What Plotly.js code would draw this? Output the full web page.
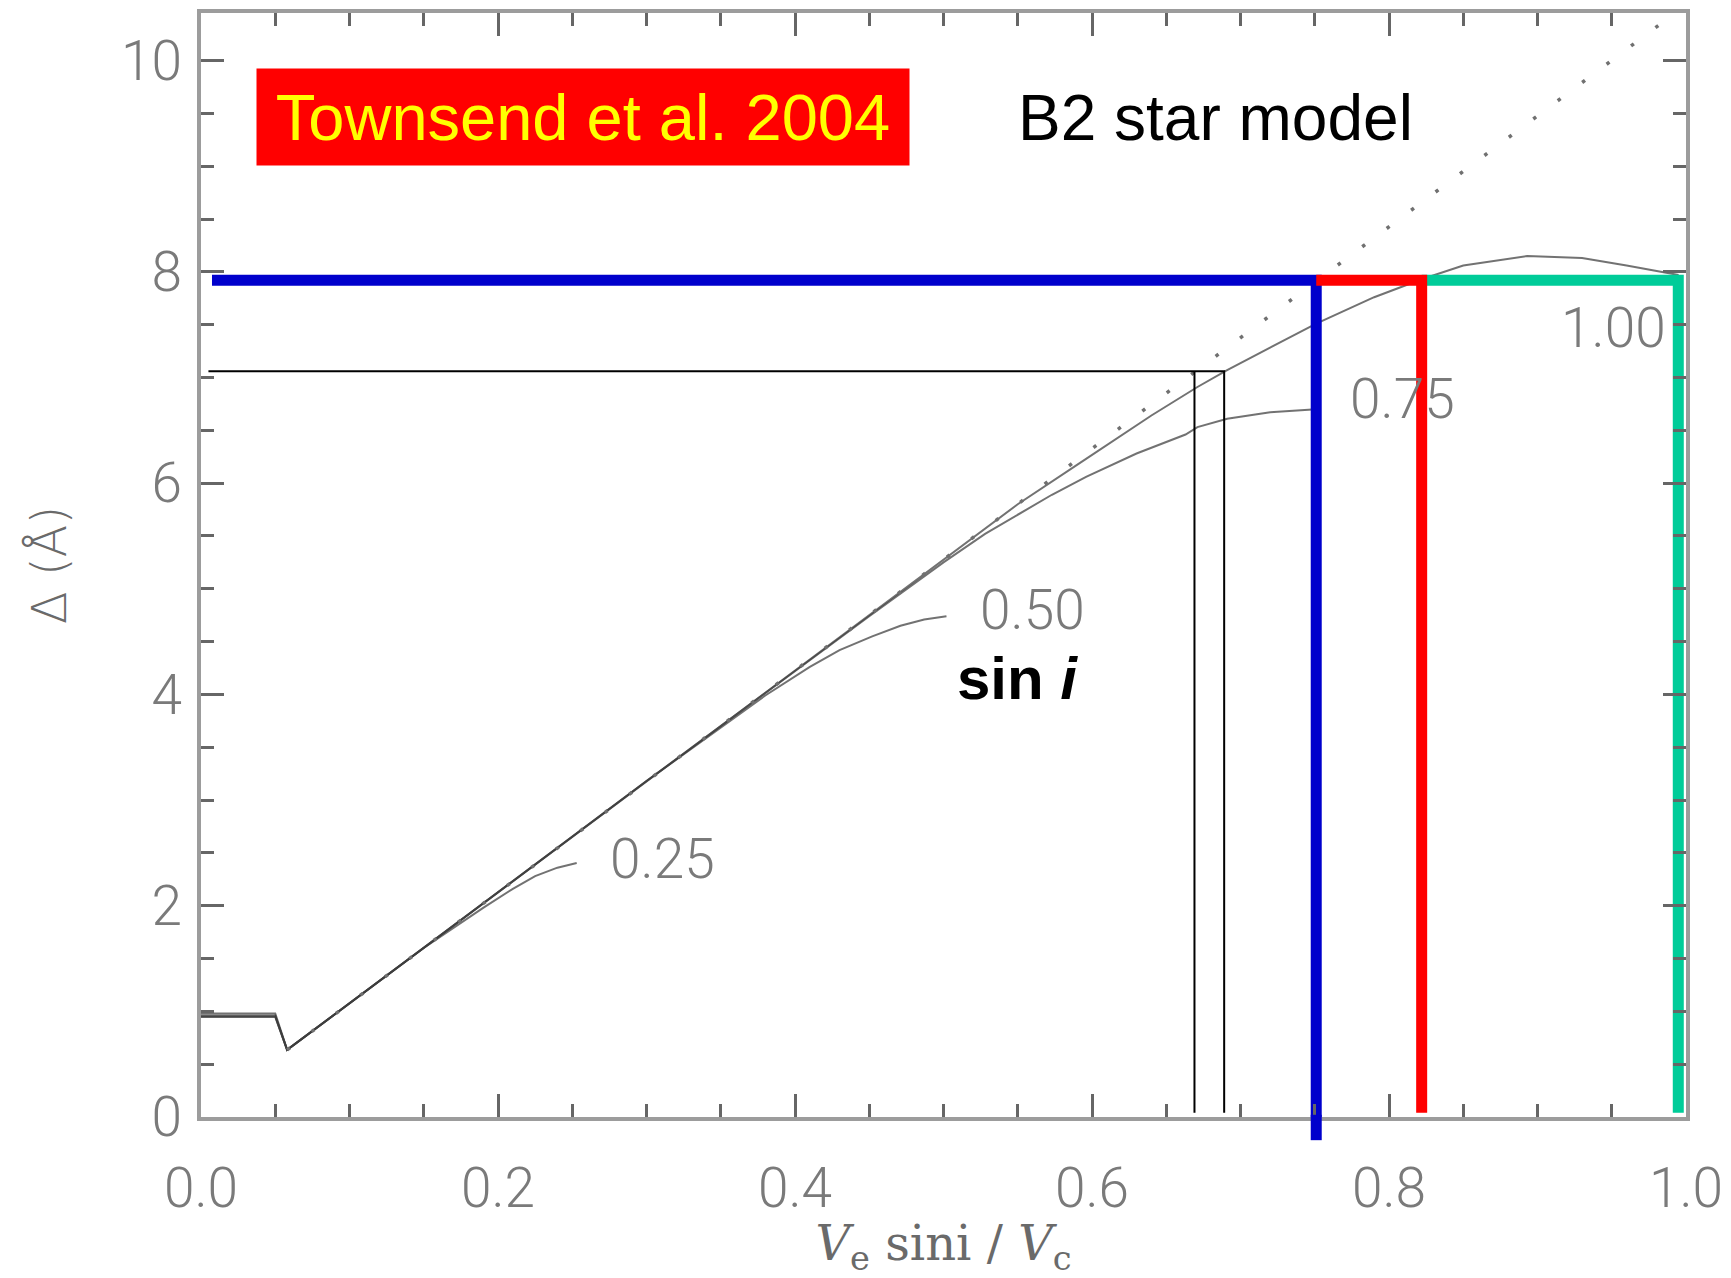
<!DOCTYPE html>
<html>
<head>
<meta charset="utf-8">
<script src="https://cdn.plot.ly/plotly-3.0.1.min.js"></script>
<style>html,body{margin:0;padding:0;background:#fff;}#chart{width:1731px;height:1278px;}</style>
</head>
<body>
<div id="chart"></div>
<script>
// ---- data ----
const curve025X = [0, 0.05, 0.058, 0.15, 0.19, 0.21, 0.225, 0.24, 0.253];
const curve025Y = [0.98, 0.98, 0.635, 1.60, 1.98, 2.16, 2.28, 2.36, 2.405];

const curve050X = [0, 0.05, 0.058, 0.15, 0.30, 0.38, 0.41, 0.43, 0.452, 0.471, 0.487, 0.502];
const curve050Y = [0.96, 0.96, 0.635, 1.60, 3.18, 3.99, 4.26, 4.42, 4.55, 4.65, 4.71, 4.74];

const curve075X = [0, 0.05, 0.058, 0.15, 0.30, 0.45, 0.50, 0.528, 0.573, 0.596, 0.630, 0.663, 0.671, 0.691, 0.72, 0.751];
const curve075Y = [0.95, 0.95, 0.635, 1.60, 3.18, 4.74, 5.25, 5.52, 5.89, 6.06, 6.28, 6.46, 6.53, 6.61, 6.67, 6.70];

const curve100X = [0, 0.05, 0.058, 0.15, 0.30, 0.45, 0.55, 0.596, 0.64, 0.671, 0.691, 0.751, 0.79, 0.822, 0.85, 0.893, 0.93, 0.96, 0.995];
const curve100Y = [0.95, 0.95, 0.635, 1.60, 3.18, 4.75, 5.80, 6.23, 6.64, 6.91, 7.07, 7.51, 7.76, 7.93, 8.06, 8.15, 8.13, 8.06, 7.97];

const linearX = [0.058, 0.987];
const linearY = [0.635, 10.39];

const sinLabels = ['0.25', '0.50', '0.75', '1.00'];
const sinLabelX = [0.3105, 0.5597, 0.8088, 0.9515];
const sinLabelY = [2.445, 4.80, 6.80, 7.47];

// marker lines (Δ levels and velocity ratios)
const blueX = [0.0074, 0.751, 0.751];
const blueY = [7.92, 7.92, 0];
const redX = [0.751, 0.822, 0.822];
const redY = [7.92, 7.92, 0.04];
const greenX = [0.822, 0.9948, 0.9948];
const greenY = [7.92, 7.92, 0.04];
const blackX = [0.005, 0.689, 0.689, null, 0.669, 0.669];
const blackY = [7.06, 7.06, 0.04, null, 7.06, 0.04];
const blueStubBottom = -0.021; // paper fraction below the x axis

const xTickVals = [0, 0.2, 0.4, 0.6, 0.8, 1.0];
const xTickText = ['0.0', '0.2', '0.4', '0.6', '0.8', '1.0'];
const yTickVals = [0, 2, 4, 6, 8, 10];
const yTickText = ['0', '2', '4', '6', '8', '10'];

// ---- styling ----
const curveColor = 'rgba(60,60,60,0.72)';
const labelFont = {family: 'Roboto, "DejaVu Sans", sans-serif', size: 55, color: '#7a7a7a', weight: 300};

function curve(x, y) {
  return {x: x, y: y, mode: 'lines', type: 'scatter', line: {color: curveColor, width: 2}, hoverinfo: 'skip', showlegend: false};
}

const traces = [
  curve(curve025X, curve025Y),
  curve(curve050X, curve050Y),
  curve(curve075X, curve075Y),
  curve(curve100X, curve100Y),
  {x: linearX, y: linearY, mode: 'lines', type: 'scatter', line: {color: '#707070', width: 3.5, dash: '3.5px,27px'}, showlegend: false},
  {x: blackX, y: blackY, mode: 'lines', type: 'scatter', line: {color: '#000', width: 2}, connectgaps: false, showlegend: false},
  {x: blueX, y: blueY, mode: 'lines', type: 'scatter', line: {color: '#0000CC', width: 11}, showlegend: false},
  {x: greenX, y: greenY, mode: 'lines', type: 'scatter', line: {color: '#00CC99', width: 11}, showlegend: false},
  {x: redX, y: redY, mode: 'lines', type: 'scatter', line: {color: '#FF0000', width: 11}, showlegend: false}
];

const annotations = sinLabels.map((t, i) => ({
  x: sinLabelX[i], y: sinLabelY[i], xref: 'x', yref: 'y', text: t, showarrow: false,
  xanchor: 'center', yanchor: 'middle', font: labelFont
}));
annotations.push({
  x: 0.257, y: 9.47, xref: 'x', yref: 'y', text: 'Townsend et al. 2004', showarrow: false,
  xanchor: 'center', yanchor: 'middle', bgcolor: '#FF0000', width: 652, height: 96, borderpad: 0,
  font: {family: '"Liberation Sans", Arial, sans-serif', size: 65, color: '#FFFF00'}
});
annotations.push({
  x: 0.683, y: 9.46, xref: 'x', yref: 'y', text: 'B2 star model', showarrow: false,
  xanchor: 'center', yanchor: 'middle',
  font: {family: '"Liberation Sans", Arial, sans-serif', size: 64, color: '#000'}
});
annotations.push({
  x: 0.550, y: 4.15, xref: 'x', yref: 'y', text: '<b>sin <i>i</i></b>', showarrow: false,
  xanchor: 'center', yanchor: 'middle',
  font: {family: '"Liberation Sans", Arial, sans-serif', size: 60, color: '#000'}
});

const axisCommon = {
  showgrid: false, zeroline: false, showline: true, linecolor: '#9c9c9c', linewidth: 4,
  mirror: 'allticks', ticks: 'inside', ticklen: 23, tickwidth: 3, tickcolor: '#666',
  tickfont: labelFont,
  minor: {ticks: 'inside', ticklen: 13, tickwidth: 3, tickcolor: '#666', showgrid: false}
};

const layout = {
  width: 1731, height: 1278,
  margin: {l: 201, r: 45, t: 13, b: 161},
  paper_bgcolor: '#fff', plot_bgcolor: '#fff',
  showlegend: false,
  xaxis: Object.assign({}, axisCommon, {
    range: [0, 1.0], tickvals: xTickVals, ticktext: xTickText,
    minor: Object.assign({}, axisCommon.minor, {dtick: 0.05}),
    ticklabelstandoff: 20,
    title: {text: '<i>V</i><sub>e</sub> sini / <i>V</i><sub>c</sub>', standoff: 18,
      font: {family: '"DejaVu Serif", "Liberation Serif", serif', size: 48, color: '#6a6a6a'}}
  }),
  yaxis: Object.assign({}, axisCommon, {
    range: [0, 10.45], tickvals: yTickVals, ticktext: yTickText,
    minor: Object.assign({}, axisCommon.minor, {dtick: 0.5}),
    ticklabelstandoff: 4,
    title: {text: 'Δ (Å)', standoff: 40,
      font: {family: '"DejaVu Sans", sans-serif', size: 48, color: '#6a6a6a', weight: 300}}
  }),
  annotations: annotations,
  shapes: [{
    type: 'line', xref: 'x', yref: 'paper', x0: blueX[2], x1: blueX[2], y0: blueStubBottom, y1: 0.002,
    line: {color: '#0000CC', width: 11}
  }]
};

Plotly.newPlot('chart', traces, layout, {displayModeBar: false, staticPlot: true});
</script>
</body>
</html>
